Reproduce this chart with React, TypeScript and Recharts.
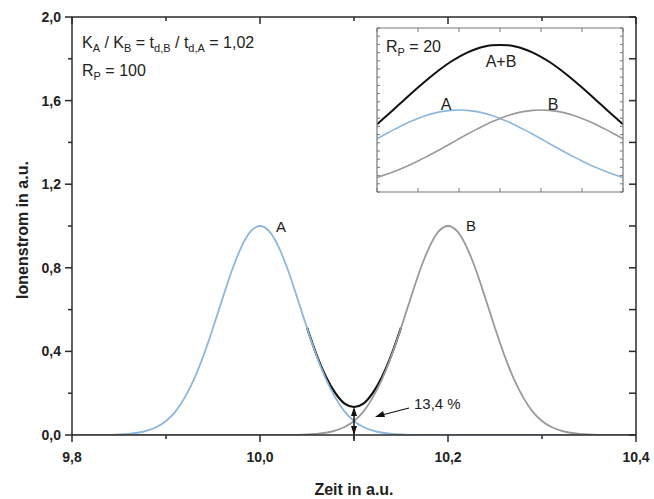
import React from 'react';
import { LineChart, Line, XAxis, YAxis, ReferenceLine } from 'recharts';

// main plot, R_P = 100
const mainTime = [
  9.8, 9.81, 9.82, 9.83, 9.84, 9.85, 9.86, 9.87, 9.88, 9.89,
  9.9, 9.91, 9.92, 9.93, 9.94, 9.95, 9.96, 9.97, 9.98, 9.99,
  10.0, 10.01, 10.02, 10.03, 10.04, 10.05, 10.06, 10.07, 10.08, 10.09,
  10.1, 10.11, 10.12, 10.13, 10.14, 10.15, 10.16, 10.17, 10.18, 10.19,
  10.2, 10.21, 10.22, 10.23, 10.24, 10.25, 10.26, 10.27, 10.28, 10.29,
  10.3, 10.31, 10.32, 10.33, 10.34, 10.35, 10.36, 10.37, 10.38, 10.39, 10.4,
];
const peakA = [
  0, 0.0001, 0.0002, 0.0004, 0.001, 0.0024, 0.0052, 0.0108, 0.0211, 0.038,
  0.067, 0.112, 0.18, 0.269, 0.381, 0.512, 0.651, 0.786, 0.898, 0.974,
  1, 0.974, 0.898, 0.786, 0.651, 0.512, 0.381, 0.269, 0.18, 0.112,
  0.067, 0.038, 0.0211, 0.0108, 0.0052, 0.0024, 0.001, 0.0004, 0.0002, 0.0001,
  0, 0, 0, 0, 0, 0, 0, 0, 0, 0,
  0, 0, 0, 0, 0, 0, 0, 0, 0, 0, 0,
];
const peakB = [
  0, 0, 0, 0, 0, 0, 0, 0, 0, 0,
  0, 0, 0, 0, 0, 0, 0, 0, 0, 0,
  0, 0.0001, 0.0002, 0.0004, 0.001, 0.0024, 0.0052, 0.0108, 0.0211, 0.038,
  0.067, 0.112, 0.18, 0.269, 0.381, 0.512, 0.651, 0.786, 0.898, 0.974,
  1, 0.974, 0.898, 0.786, 0.651, 0.512, 0.381, 0.269, 0.18, 0.112,
  0.067, 0.038, 0.0211, 0.0108, 0.0052, 0.0024, 0.001, 0.0004, 0.0002, 0.0001, 0,
];
// A+B, only where it separates from the single peaks
const peakSum = [
  null, null, null, null, null, null, null, null, null, null,
  null, null, null, null, null, null, null, null, null, null,
  null, null, null, null, null, 0.514, 0.386, 0.28, 0.201, 0.15,
  0.134, 0.15, 0.201, 0.28, 0.386, 0.514, null, null, null, null,
  null, null, null, null, null, null, null, null, null, null,
  null, null, null, null, null, null, null, null, null, null, null,
];
const valleyTime = 10.1;
const valleyValue = 0.134;

const mainXTicks = [9.8, 9.9, 10.0, 10.1, 10.2, 10.3, 10.4];
const mainYTicks = [0, 0.2, 0.4, 0.6, 0.8, 1.0, 1.2, 1.4, 1.6, 1.8, 2.0];

// inset, R_P = 20
const insetTime = [
  9.8, 9.82, 9.84, 9.86, 9.88, 9.9, 9.92, 9.94, 9.96, 9.98,
  10.0, 10.02, 10.04, 10.06, 10.08, 10.1, 10.12, 10.14, 10.16, 10.18,
  10.2, 10.22, 10.24, 10.26, 10.28, 10.3, 10.32, 10.34, 10.36, 10.38, 10.4,
];
const insetA = [
  0.649, 0.704, 0.758, 0.809, 0.856, 0.897, 0.933, 0.962, 0.983, 0.996,
  1, 0.996, 0.983, 0.962, 0.933, 0.897, 0.856, 0.809, 0.758, 0.704,
  0.649, 0.592, 0.536, 0.481, 0.428, 0.378, 0.33, 0.286, 0.246, 0.21, 0.177,
];
const insetB = [
  0.177, 0.21, 0.246, 0.286, 0.33, 0.378, 0.428, 0.481, 0.536, 0.592,
  0.649, 0.704, 0.758, 0.809, 0.856, 0.897, 0.933, 0.962, 0.983, 0.996,
  1, 0.996, 0.983, 0.962, 0.933, 0.897, 0.856, 0.809, 0.758, 0.704, 0.649,
];
const insetSum = [
  0.826, 0.914, 1.004, 1.095, 1.186, 1.275, 1.361, 1.443, 1.519, 1.588,
  1.649, 1.7, 1.741, 1.771, 1.789, 1.794, 1.789, 1.771, 1.741, 1.7,
  1.649, 1.588, 1.519, 1.443, 1.361, 1.275, 1.186, 1.095, 1.004, 0.914, 0.826,
];
const insetXTicks = [9.8, 9.9, 10.0, 10.1, 10.2, 10.3, 10.4];
const insetYTicks = [
  0, 0.1, 0.2, 0.3, 0.4, 0.5, 0.6, 0.7, 0.8, 0.9, 1.0,
  1.1, 1.2, 1.3, 1.4, 1.5, 1.6, 1.7, 1.8, 1.9, 2.0,
];

const mainData = mainTime.map((t, i) => ({ t, a: peakA[i], b: peakB[i], sum: peakSum[i] }));
const insetData = insetTime.map((t, i) => ({ t, a: insetA[i], b: insetB[i], sum: insetSum[i] }));

const FONT = '"Liberation Sans", Arial, sans-serif';
const AXIS = '#2a2a2a';
const FRAME = '#777';
const BLUE = '#8db8dc';
const GRAY = '#9a9a9a';
const BLACK = '#111';

const fmt = (v: number) => v.toFixed(1).replace('.', ',');
const isMajorX = (v: number) => Math.round(v * 10) % 2 === 0;
const isMajorY = (v: number) => Math.round(v * 10) % 4 === 0;

const BottomTick = ({ x, y, payload }: any) => {
  const major = isMajorX(payload.value);
  return (
    <g>
      <line x1={x} y1={y} x2={x} y2={y + (major ? 7 : 4)} stroke={AXIS} strokeWidth={1.5} />
      {major && (
        <text x={x} y={y + 27} textAnchor="middle" fontFamily={FONT} fontWeight="bold" fontSize={14} fill="#222">
          {fmt(payload.value)}
        </text>
      )}
    </g>
  );
};

const TopTick = ({ x, y, payload }: any) => (
  <line x1={x} y1={y} x2={x} y2={y + (isMajorX(payload.value) ? 7 : 4)} stroke={AXIS} strokeWidth={1.5} />
);

const LeftTick = ({ x, y, payload }: any) => {
  const major = isMajorY(payload.value);
  return (
    <g>
      <line x1={x} y1={y} x2={x - (major ? 7 : 4)} y2={y} stroke={AXIS} strokeWidth={1.5} />
      {major && (
        <text x={x - 11} y={y} dy="0.35em" textAnchor="end" fontFamily={FONT} fontWeight="bold" fontSize={14} fill="#222">
          {fmt(payload.value)}
        </text>
      )}
    </g>
  );
};

const RightTick = ({ x, y }: any) => (
  <line x1={x} y1={y} x2={x - 7} y2={y} stroke={AXIS} strokeWidth={1.5} />
);

// inset ticks all point inwards
const InBottom = ({ x, y }: any) => <line x1={x} y1={y} x2={x} y2={y - 4} stroke={FRAME} strokeWidth={1} />;
const InTop = ({ x, y }: any) => <line x1={x} y1={y} x2={x} y2={y + 4} stroke={FRAME} strokeWidth={1} />;
const InLeft = ({ x, y }: any) => <line x1={x} y1={y} x2={x + 3} y2={y} stroke={FRAME} strokeWidth={1} />;
const InRight = ({ x, y }: any) => <line x1={x} y1={y} x2={x - 3} y2={y} stroke={FRAME} strokeWidth={1} />;

const DoubleArrow = (props: any) => {
  const { x1, y1, y2 } = props;
  const top = Math.min(y1, y2);
  const bottom = Math.max(y1, y2);
  return (
    <g>
      <line x1={x1} y1={top + 2} x2={x1} y2={bottom + 6} stroke={BLACK} strokeWidth={1.5} />
      <path d={`M${x1},${top} l-3,9 l6,0 z`} fill={BLACK} />
      <path d={`M${x1},${bottom} l-3,-9 l6,0 z`} fill={BLACK} />
    </g>
  );
};

const sub = { fontSize: 11 };

export default function App() {
  return (
    <div style={{ position: 'absolute', left: 0, top: 0, width: 654, height: 499, background: '#fff' }}>
      <LineChart
        width={654}
        height={499}
        data={mainData}
        margin={{ top: 16, right: 17, bottom: 34, left: 32 }}
        style={{ position: 'absolute', left: 0, top: 0 }}
      >
        <XAxis
          dataKey="t"
          type="number"
          domain={[9.8, 10.4]}
          ticks={mainXTicks}
          interval={0}
          allowDataOverflow
          height={30}
          tickSize={0}
          tickMargin={0}
          tick={BottomTick}
          axisLine={{ stroke: AXIS, strokeWidth: 1.5 }}
          label={{ value: 'Zeit in a.u.', position: 'insideBottom', offset: -30, fontFamily: FONT, fontWeight: 'bold', fontSize: 16, fill: '#222' }}
        />
        <XAxis
          xAxisId="top"
          orientation="top"
          dataKey="t"
          type="number"
          domain={[9.8, 10.4]}
          ticks={mainXTicks}
          interval={0}
          allowDataOverflow
          height={1}
          tickSize={0}
          tickMargin={0}
          tick={TopTick}
          axisLine={{ stroke: AXIS, strokeWidth: 1.5 }}
        />
        <YAxis
          type="number"
          domain={[0, 2]}
          ticks={mainYTicks}
          interval={0}
          allowDataOverflow
          width={40}
          tickSize={0}
          tickMargin={0}
          tick={LeftTick}
          axisLine={{ stroke: AXIS, strokeWidth: 1.5 }}
        />
        <YAxis
          yAxisId="right"
          orientation="right"
          type="number"
          domain={[0, 2]}
          ticks={mainYTicks}
          interval={0}
          allowDataOverflow
          width={1}
          tickSize={0}
          tickMargin={0}
          tick={RightTick}
          axisLine={{ stroke: AXIS, strokeWidth: 1.5 }}
        />
        <Line type="monotone" dataKey="sum" stroke={BLACK} strokeWidth={2.2} dot={false} isAnimationActive={false} />
        <Line type="monotone" dataKey="a" stroke={BLUE} strokeWidth={1.8} dot={false} isAnimationActive={false} />
        <Line type="monotone" dataKey="b" stroke={GRAY} strokeWidth={1.8} dot={false} isAnimationActive={false} />
        <ReferenceLine
          segment={[{ x: valleyTime, y: 0 }, { x: valleyTime, y: valleyValue }]}
          shape={DoubleArrow}
        />
      </LineChart>

      <svg width={654} height={499} style={{ position: 'absolute', left: 0, top: 0, pointerEvents: 'none' }}>
        <text x={22} y={230} transform="rotate(-90 22 230)" textAnchor="middle" dy="0.35em" fontFamily={FONT} fontWeight="bold" fontSize={16} fill="#222">
          Ionenstrom in a.u.
        </text>
        <text x={82} y={48} fontFamily={FONT} fontSize={16} fill="#222">
          <tspan>K</tspan>
          <tspan dy={4} {...sub}>A</tspan>
          <tspan dy={-4}> / K</tspan>
          <tspan dy={4} {...sub}>B</tspan>
          <tspan dy={-4}> = t</tspan>
          <tspan dy={4} {...sub}>d,B</tspan>
          <tspan dy={-4}> / t</tspan>
          <tspan dy={4} {...sub}>d,A</tspan>
          <tspan dy={-4}> = 1,02</tspan>
        </text>
        <text x={82} y={76} fontFamily={FONT} fontSize={16} fill="#222">
          <tspan>R</tspan>
          <tspan dy={4} {...sub}>P</tspan>
          <tspan dy={-4}> = 100</tspan>
        </text>
        <text x={276} y={232} fontFamily={FONT} fontSize={15} fill="#222">A</text>
        <text x={466} y={231} fontFamily={FONT} fontSize={15} fill="#222">B</text>
        <text x={414} y={409} fontFamily={FONT} fontSize={15} fill="#222">13,4 %</text>
        <line x1={409} y1={408} x2={382} y2={415} stroke={BLACK} strokeWidth={1.2} />
        <path d="M375,417 l8,-6 l2,6 z" fill={BLACK} />
      </svg>

      <div style={{ position: 'absolute', left: 373, top: 24, width: 254, height: 172 }}>
        <LineChart width={254} height={172} data={insetData} margin={{ top: 3, right: 3, bottom: 3, left: 3 }}>
          <XAxis dataKey="t" type="number" domain={[9.8, 10.4]} ticks={insetXTicks} interval={0} allowDataOverflow height={1} tickSize={0} tickMargin={0} tick={InBottom} axisLine={{ stroke: FRAME, strokeWidth: 1.2 }} />
          <XAxis xAxisId="top" orientation="top" dataKey="t" type="number" domain={[9.8, 10.4]} ticks={insetXTicks} interval={0} allowDataOverflow height={1} tickSize={0} tickMargin={0} tick={InTop} axisLine={{ stroke: FRAME, strokeWidth: 1.2 }} />
          <YAxis type="number" domain={[0, 2]} ticks={insetYTicks} interval={0} allowDataOverflow width={1} tickSize={0} tickMargin={0} tick={InLeft} axisLine={{ stroke: FRAME, strokeWidth: 1.2 }} />
          <YAxis yAxisId="right" orientation="right" type="number" domain={[0, 2]} ticks={insetYTicks} interval={0} allowDataOverflow width={1} tickSize={0} tickMargin={0} tick={InRight} axisLine={{ stroke: FRAME, strokeWidth: 1.2 }} />
          <Line type="monotone" dataKey="sum" stroke={BLACK} strokeWidth={2} dot={false} isAnimationActive={false} />
          <Line type="monotone" dataKey="a" stroke={BLUE} strokeWidth={1.6} dot={false} isAnimationActive={false} />
          <Line type="monotone" dataKey="b" stroke={GRAY} strokeWidth={1.6} dot={false} isAnimationActive={false} />
        </LineChart>
        <svg width={254} height={172} style={{ position: 'absolute', left: 0, top: 0, pointerEvents: 'none' }}>
          <text x={13} y={28} fontFamily={FONT} fontSize={16} fill="#222">
            <tspan>R</tspan>
            <tspan dy={4} {...sub}>P</tspan>
            <tspan dy={-4}> = 20</tspan>
          </text>
          <text x={128} y={43} textAnchor="middle" fontFamily={FONT} fontSize={16} fill="#222">A+B</text>
          <text x={73} y={86} textAnchor="middle" fontFamily={FONT} fontSize={16} fill="#222">A</text>
          <text x={180} y={86} textAnchor="middle" fontFamily={FONT} fontSize={16} fill="#222">B</text>
        </svg>
      </div>
    </div>
  );
}
